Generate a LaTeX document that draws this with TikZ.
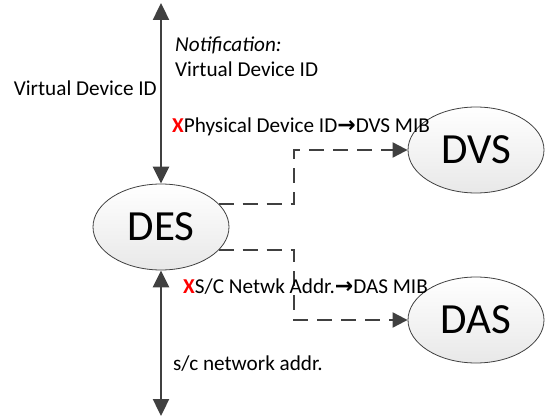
\documentclass[tikz,border=0pt]{standalone}
\usepackage{fontspec}
\setmainfont{Carlito}
\newfontfamily\arrowfont{DejaVu Sans}
\usetikzlibrary{arrows.meta,shapes.geometric}
\definecolor{linegray}{HTML}{404040}
\tikzset{both/.style = {draw=linegray, line width=2.4pt, {Triangle[length=17pt,width=16pt]}-{Triangle[length=17pt,width=16pt]}}}
\tikzset{dash arr/.style = {draw=linegray, line width=2pt, dash pattern=on 15pt off 9pt, -{Triangle[length=15pt,width=15pt]}}}
\tikzset{proc/.style = {ellipse, draw=linegray, line width=0.8pt, top color=white, bottom color=gray!18, minimum width=136pt, minimum height=86pt, inner sep=0, font=\fontsize{43}{45}\selectfont}}
\tikzset{lbl/.style = {anchor=base west, inner sep=0, font=\fontsize{21.2}{23}\selectfont}}
\newcommand{\redx}{\textcolor{red}{\textbf{X}}}
\newcommand{\arr}{{\arrowfont\bfseries\fontsize{22}{23}\selectfont\char"2192}}

\begin{document}
\begin{tikzpicture}[x=1pt, y=-1pt]
      \useasboundingbox (0,0) rectangle (550,420);
      \node [proc] (des) at (161,227) {DES};
      \node [proc] (dvs) at (476,150) {DVS};
      \node [proc] (das) at (476,320) {DAS};
      \coordinate (top) at (161,3);
      \coordinate (bottom) at (161,416);
      \draw [both] (top) -- (des.north);
      \draw [both] (des.south) -- (bottom);
      \draw [dash arr] (des.22) -- ++(75,0) |- (dvs.west);
      \draw [dash arr] (des.-22) -- ++(75,0) |- (das.west);
      \node [lbl] (note) at (175,52) {\textit{Notification:}};
      \node [lbl] (vid) at (175,77) {Virtual Device ID};
      \node [lbl, anchor=base east] (vidl) at (157,96) {Virtual Device ID};
      \node [lbl] (phys) at (172,133) {\redx Physical Device ID\arr DVS MIB};
      \node [lbl] (netw) at (183,293) {\redx S/C Netwk Addr.\arr DAS MIB};
      \node [lbl] (sc) at (173,370) {s/c network addr.};
    \end{tikzpicture}
\end{document}
